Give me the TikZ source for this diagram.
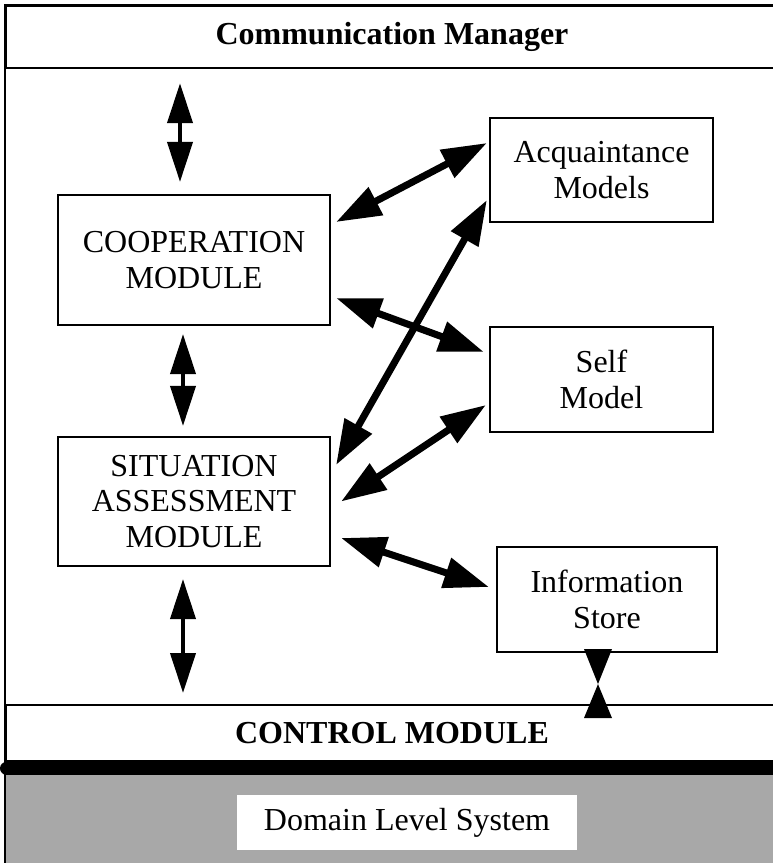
\documentclass[tikz,border=0pt]{standalone}
\usepackage{fontspec}
\setmainfont{Liberation Serif}
\usetikzlibrary{arrows.meta,calc}
\begin{document}
\begin{tikzpicture}[x=1pt,y=-1pt,
  box/.style={draw,line width=2.2pt,fill=white,align=center,inner sep=0pt,
    font=\fontsize{32}{35.5}\selectfont},
  bar/.style={draw,line width=2.2pt,fill=white,inner sep=0pt},
  bartext/.style={font=\fontsize{32}{35}\selectfont\bfseries},
  darrow/.style={line width=7pt,
    {Triangle[length=45pt,width=30pt]}-{Triangle[length=45pt,width=30pt]}},
  varrow/.style={line width=4pt,
    {Triangle[length=40pt,width=25pt]}-{Triangle[length=40pt,width=25pt]}}]
\useasboundingbox (0,0) rectangle (773,863);
\clip (0,0) rectangle (773,863);
% outer frame
\draw[line width=2pt] (5,5) rectangle (790,870);
% bars
\node[bar,minimum width=790pt,minimum height=62pt,anchor=north west] (comm) at (5,5) {};
\node[bartext] (commt) at (392,37) {Communication Manager};
\node[bar,minimum width=790pt,minimum height=56pt,anchor=north west] (ctrl) at (5,704) {};
\node[bartext] (ctrlt) at (392,733) {CONTROL MODULE};
% domain level
\fill[black!34] (5,775) rectangle (790,870);
\draw[line width=2pt] (5,775) -- (5,870);
\draw[line width=13pt,line cap=round] (6.5,768) -- (790,768);
\node[fill=white,minimum width=340pt,minimum height=55pt,inner sep=0pt,
  font=\fontsize{32}{35}\selectfont] (dom) at (407,822.5) {Domain Level System};
% modules
\node[box,minimum width=272pt,minimum height=130pt] (coop) at (194,260) {COOPERATION\\MODULE};
\node[box,minimum width=272pt,minimum height=129pt] (sit) at (194,501.5) {SITUATION\\ASSESSMENT\\MODULE};
\node[box,minimum width=223pt,minimum height=104pt] (acq) at (601.5,170) {Acquaintance\\Models};
\node[box,minimum width=223pt,minimum height=105pt] (self) at (601.5,379.5) {Self\\Model};
\node[box,minimum width=220pt,minimum height=105pt] (info) at (607,599.5) {Information\\Store};
% vertical arrows
\draw[varrow] ($(comm.south -| coop.north)+(-14,14)$) -- ($(coop.north)+(-14,-12)$);
\draw[varrow] ($(coop.south)+(-11,8)$) -- ($(sit.north)+(-11,-10)$);
\draw[varrow] ($(sit.south)+(-11,12)$) -- ($(ctrl.north -| sit.south)+(-11,-11)$);
% diagonal arrows
\draw[darrow] ($(coop.east)+(5,-38)$) -- ($(acq.west)+(-2,-27)$);
\draw[darrow] ($(coop.east)+(5,38)$) -- ($(self.west)+(-5,-27.5)$);
\draw[darrow] ($(sit.east)+(5,-36.5)$) -- ($(acq.west)+(-2,30)$);
\draw[darrow] ($(sit.east)+(10,0)$) -- ($(self.west)+(-3,25.5)$);
\draw[darrow] ($(sit.east)+(10,36.5)$) -- ($(info.west)+(-7,-12.5)$);
% bowtie between info store and control module
\coordinate (bt) at ($(info.south)+(-9,0)$);
\coordinate (bm) at ($(info.south)+(-9,31)$);
\coordinate (bb) at ($(ctrl.north -| bt)+(0,14)$);
\fill ($(bt)+(-14,-4)$) -- ($(bt)+(14,-4)$) -- (bm) -- cycle;
\fill ($(bb)+(-14,0)$) -- ($(bb)+(14,0)$) -- (bm) -- cycle;
\end{tikzpicture}
\end{document}
